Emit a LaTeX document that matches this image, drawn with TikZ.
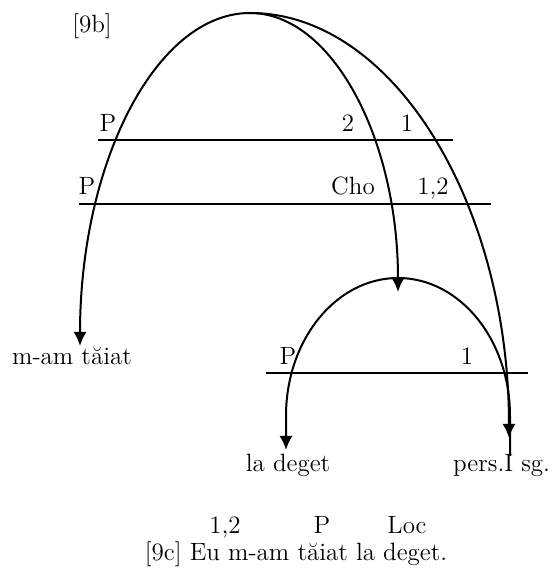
\documentclass[tikz,border=0pt]{standalone}
\usetikzlibrary{arrows.meta,calc}

\begin{document}
\begin{tikzpicture}[x=0.5pt, y=0.5pt, line width=1pt, >={Latex[length=7pt,width=6.5pt]},
    lbl/.style={anchor=base, inner sep=0pt, font=\fontsize{12.5}{15}\selectfont}]
    \def\k{0.552}
    \useasboundingbox (0,0) rectangle (554,568);

    % ---------- levels ----------
    \coordinate (aL) at (98,428);  \coordinate (aR) at (453,428);
    \coordinate (bL) at (79,364);  \coordinate (bR) at (491,364);
    \coordinate (cL) at (266,195); \coordinate (cR) at (528,195);
    \draw (aL) -- (aR);
    \draw (bL) -- (bR);
    \draw (cL) -- (cR);

    \node[lbl] (t9b) at (92,535) {[9b]};
    \node[lbl] (aP) at (108,436) {P};
    \node[lbl] (a2) at (348,436) {2};
    \node[lbl] (a1) at (407,436) {1};
    \node[lbl] (bP) at (87,373) {P};
    \node[lbl] (bCho) at (353,373) {Cho};
    \node[lbl] (b12) at (433,373) {1,2};
    \node[lbl] (cP) at (288,203) {P};
    \node[lbl] (c1) at (467,203) {1};

    % ---------- words ----------
    \node[lbl] (mam) at (72,203) {m-am tăiat};
    \node[lbl] (deget) at (288,96) {la deget};
    \node[lbl, anchor=base east] (pers) at (551,96) {pers.I sg.};
    \node[lbl] (r12) at (225,34) {1,2};
    \node[lbl] (rP) at (322,34) {P};
    \node[lbl] (rLoc) at (407,34) {Loc};
    \node[lbl] (t9c) at (296,8) {[9c] Eu m-am tăiat la deget.};

    % ---------- arcs ----------
    \coordinate (top) at (250,555);
    \coordinate (tipL) at (80,222);
    \coordinate (sub) at (398,276);
    \coordinate (tipR) at (509,130);
    \coordinate (lfoot) at (286,118);
    \coordinate (rfoot) at (510,112);

    \draw[->] (top) .. controls ($(top)!\k!(top-|tipL)$) and ($(tipL)!\k!(tipL|-top)$) .. (tipL);
    \draw[->] (top) .. controls ($(top)!\k!(top-|sub)$) and ($(sub)!\k!(sub|-top)$) .. (sub);
    \draw[->] (top) .. controls ($(top)!\k!(top-|tipR)$) and ($(tipR)!\k!(tipR|-top)$) .. (tipR);
    \draw[->] (rfoot) -- (510,152) arc[start angle=0, end angle=180, x radius=112, y radius=138] -- (lfoot);
\end{tikzpicture}
\end{document}
